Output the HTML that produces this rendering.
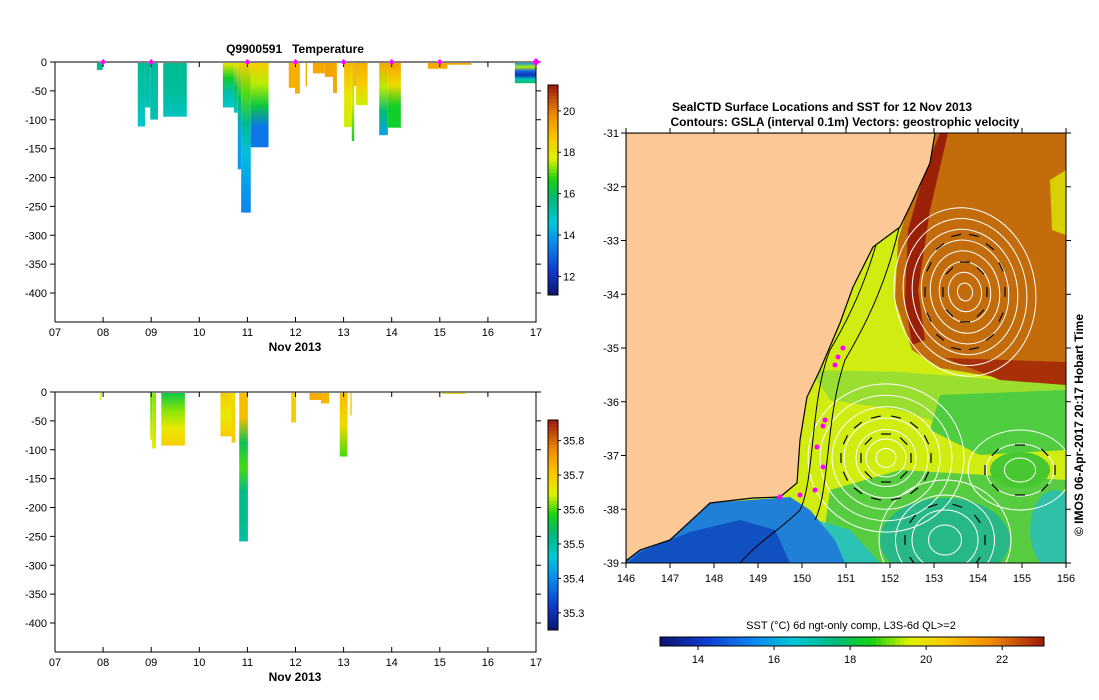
<!DOCTYPE html>
<html><head><meta charset="utf-8"><style>
body{margin:0;background:#fff;width:1099px;height:700px;overflow:hidden}
svg{display:block;font-family:"Liberation Sans",sans-serif}
.t{font-size:11px;fill:#000}
.b{font-size:12px;font-weight:bold;fill:#000;white-space:pre}
</style></head><body>
<svg id="svg" width="1099" height="700"></svg>
<script>
// ---- data ----
const dayTicks = ["07","08","09","10","11","12","13","14","15","16","17"];
const depthTicks = [0,-50,-100,-150,-200,-250,-300,-350,-400];
const markerDays = [8,9,11,12,13,14,15,17];
const tempStart = [7.87,8.72,8.87,8.98,9.25,10.49,10.72,10.80,10.87,11.07,11.86,11.99,12.21,12.36,12.61,12.78,13.01,13.17,13.22,13.26,13.74,13.92,14.75,15.16,16.56];
const tempEnd   = [7.99,8.87,8.98,9.14,9.74,10.72,10.80,10.87,11.07,11.44,11.99,12.09,12.24,12.61,12.78,12.86,13.17,13.22,13.26,13.50,13.92,14.19,15.16,15.66,16.99];
const tempDepth = [12,110,77,98,93,77,86,184,259,146,43,53,40,18,24,52,111,135,40,73,125,112,10,3,35];
const tempProfiles = [[15.5,15.5],[15.4,15.2,14.8],[15.4,15.0],[15.4,15.1],[15.5,15.4,14.9],[18,16.5,15.2,14.8],[18,16,14.8],[18.5,16,14,13.8],[18.6,17,15.5,14.5,14,13.5],[18.6,17.5,16.3,13.3,13.3],[19.2,19.2],[19.2,19.2],[19.2,19.2],[19.3,19.3],[19.4,19.4],[19.3,19.3],[19,18,17.6],[19,17.6,16.5],[19.2,19.2],[19.2,18.6,17.6],[19.3,17.5,15.8,14],[19.4,18.3,16.5,16.5],[19.3,19.3],[19.3,19.3],[14,17.5,13,12,15,16]];
const salStart = [7.94,8.98,9.02,9.21,10.44,10.67,10.83,11.91,12.29,12.53,12.92,13.14,15.05];
const salEnd   = [7.97,9.02,9.10,9.70,10.67,10.75,11.01,12.01,12.53,12.70,13.08,13.17,15.54];
const salDepth = [12,82,96,91,75,86,257,51,12,18,110,39,1];
const salProfiles = [[35.65,35.65],[35.6,35.65],[35.62,35.66],[35.56,35.62,35.66,35.7],[35.7,35.66,35.7],[35.68,35.7],[35.72,35.72,35.55,35.6,35.52,35.52,35.5],[35.7,35.7],[35.74,35.74],[35.73,35.73],[35.72,35.68,35.6],[35.7,35.7],[35.68,35.68]];
const tempCbTicks = [12,14,16,18,20];
const salCbTicks = [35.3,35.4,35.5,35.6,35.7,35.8];
const lonTicks = [146,147,148,149,150,151,152,153,154,155,156];
const latTicks = [-31,-32,-33,-34,-35,-36,-37,-38,-39];
const sstTicks = [14,16,18,20,22];

const NS="http://www.w3.org/2000/svg";
const svg=document.getElementById('svg');
function mk(tag,attrs,parent){const e=document.createElementNS(NS,tag);for(const k in attrs)e.setAttribute(k,attrs[k]);(parent||svg).appendChild(e);return e;}
const stops=[[0,[10,20,110]],[0.12,[16,60,210]],[0.25,[10,140,240]],[0.35,[0,200,215]],[0.45,[0,185,130]],[0.55,[20,210,20]],[0.65,[225,242,0]],[0.75,[250,200,0]],[0.86,[240,140,0]],[1,[160,25,15]]];
function cmap(f){f=Math.max(0,Math.min(1,f));for(let i=1;i<stops.length;i++){if(f<=stops[i][0]){const a=stops[i-1],b=stops[i];const t=(f-a[0])/(b[0]-a[0]);const c=a[1].map((v,j)=>Math.round(v+(b[1][j]-v)*t));return `rgb(${c})`;}}return 'rgb(160,25,15)';}
let gid=0;
function gradient(vals,fn){const id='g'+(gid++);const defs=mk('defs',{});const lg=mk('linearGradient',{id:id,x1:0,y1:0,x2:0,y2:1},defs);vals.forEach((v,i)=>mk('stop',{offset:(vals.length>1?i/(vals.length-1):0),'stop-color':fn(v)},lg));return id;}

function depthPanel(y0,start,end,depth,profiles,vmin,vmax,cbTicks,cbY0,cbY1,name,title){
  const g=mk('g',{});
  
  
  const X0=55,X1=536,ybot=y0+260;
  const xs=d=>X0+(d-7)*(X1-X0)/10;
  const ys=m=>y0+m*231/400;
  const fn=v=>cmap((v-vmin)/(vmax-vmin));
  for(let i=0;i<start.length;i++){
    const id=gradient(profiles[i],fn);
    const r=mk('rect',{x:xs(start[i]),y:y0+1,width:Math.max(1,xs(end[i])-xs(start[i])),height:Math.max(1,ys(depth[i])-y0),fill:`url(#${id})`},g);
    
    
  }
  mk('path',{d:`M${X0},${ybot}V${y0}H${X1}V${ybot}H${X0}`,fill:'none',stroke:'#000','stroke-width':1},g);
  dayTicks.forEach((t,i)=>{const x=xs(7+i);mk('line',{x1:x,x2:x,y1:ybot,y2:ybot-5,stroke:'#000'},g);mk('line',{x1:x,x2:x,y1:y0,y2:y0+5,stroke:'#000'},g);
    const tx=mk('text',{x:x,y:ybot+14,'text-anchor':'middle',class:'t'},g);tx.textContent=t;});
  depthTicks.forEach(d=>{const y=ys(-d);mk('line',{x1:X0,x2:X0-5,y1:y,y2:y,stroke:'#000'},g);mk('line',{x1:X1,x2:X1+5,y1:y,y2:y,stroke:'#000'},g);
    const tx=mk('text',{x:47,y:y+4,'text-anchor':'end',class:'t'},g);tx.textContent=d;});
  const xl=mk('text',{x:295,y:ybot+29,'text-anchor':'middle',class:'b'},g);xl.textContent='Nov 2013';
  
  if(title){const tt=mk('text',{x:295,y:y0-9,'text-anchor':'middle',class:'b'},g);tt.textContent=title;
    }
  const cb=mk('g',{},g);
  const n=60;for(let k=0;k<n;k++){const yy=cbY1-(k+1)*(cbY1-cbY0)/n;mk('rect',{x:548,y:yy,width:10,height:(cbY1-cbY0)/n+0.5,fill:cmap((k+0.5)/n)},cb);}
  mk('rect',{x:548,y:cbY0,width:10,height:cbY1-cbY0,fill:'none',stroke:'#000'},cb);
  cbTicks.forEach(v=>{const y=cbY1-(v-vmin)/(vmax-vmin)*(cbY1-cbY0);mk('line',{x1:558,x2:561,y1:y,y2:y,stroke:'#000'},cb);
    const tx=mk('text',{x:563,y:y+4,class:'t'},cb);tx.textContent=v;});
  return xs;
}
const xsT=depthPanel(62,tempStart,tempEnd,tempDepth,tempProfiles,11.1,21.25,tempCbTicks,85,295,'temperature-panel','Q9900591   Temperature');
depthPanel(392,salStart,salEnd,salDepth,salProfiles,35.25,35.86,salCbTicks,420,630,'salinity-panel',null);
markerDays.forEach(d=>{const x=xsT(d);const r=d===17?4:3;const m=mk('path',{d:`M${x-r},62L${x},${62-r}L${x+r},62L${x},${62+r}Z`,fill:'#f0f'});
  });

// ---- map ----
const mg=mk('g',{});


const MX0=626,MX1=1066,MY0=133,MY1=563;
const lx=l=>MX0+(l-146)*(MX1-MX0)/10, ly=l=>MY0+(-31-l)*(MY1-MY0)/8;
const defs=mk('defs',{},mg);
const cpth=mk('clipPath',{id:'mc'},defs);
mk('rect',{x:MX0,y:MY0,width:MX1-MX0,height:MY1-MY0},cpth);
const mc=mk('g',{'clip-path':'url(#mc)'},mg);
mk('rect',{x:MX0,y:MY0,width:440,height:430,fill:'#d0ec10'},mc);
mk('path',{d:'M810,370 L900,372 L1066,385 L1066,420 L960,430 L900,410 L830,400Z',fill:'#9ade30'},mc);
mk('path',{d:'M940,395 L1066,390 L1066,450 L980,455 L930,430Z',fill:'#50cc40'},mc);
mk('path',{d:'M830,490 L900,470 L1066,480 L1066,563 L820,563Z',fill:'#58cc40'},mc);
mk('ellipse',{cx:945,cy:540,rx:65,ry:42,fill:'#28b888'},mc);
mk('ellipse',{cx:1055,cy:530,rx:25,ry:40,fill:'#30c0a8'},mc);
mk('ellipse',{cx:1020,cy:470,rx:30,ry:18,fill:'#48c830'},mc);
mk('path',{d:'M800,515 L850,530 L880,563 L790,563Z',fill:'#20c0d0',opacity:0.8},mc);
mk('path',{d:'M627,563 L627,555 L670,540 L710,503 L790,497 L810,510 L835,540 L845,563Z',fill:'#2080d8'},mc);
mk('path',{d:'M627,563 L640,552 L690,532 L740,520 L775,530 L790,563Z',fill:'#1050c0'},mc);
mk('path',{d:'M935,133 L1066,133 L1066,382 L1000,378 L940,368 L912,350 L895,300 L898,240 L915,185Z',fill:'#c26c0c'},mc);
mk('path',{d:'M940,133 L948,133 L930,210 L918,290 L925,340 L912,345 L905,300 L908,230 L925,170Z',fill:'#9a2008'},mc);
mk('path',{d:'M945,358 L1066,362 L1066,385 L1000,380Z',fill:'#a83008'},mc);
mk('path',{d:'M1050,180 L1066,170 L1066,235 L1052,230Z',fill:'#d8d000'},mc);
const ct=mk('g',{fill:'none',stroke:'#fff','stroke-width':1},mc);
[10,20,30,42,54,66,78].forEach(r=>mk('ellipse',{cx:886,cy:458,rx:r,ry:r*0.95},ct));
[10,22,34,46,58,70,82,94].forEach(r=>mk('ellipse',{cx:965,cy:292,rx:r*0.75,ry:r*0.9,transform:'rotate(-10 965 292)'},ct));
[15,30,45,60].forEach(r=>mk('ellipse',{cx:945,cy:540,rx:r*1.1,ry:r},ct));
[12,26,40].forEach(r=>mk('ellipse',{cx:1020,cy:470,rx:r*1.3,ry:r},ct));
const bc=mk('g',{fill:'none',stroke:'#000','stroke-width':1},mc);
mk('path',{d:'M900,140 C880,250 860,300 830,350 C810,400 815,480 800,510 C780,530 760,540 740,563'},bc);
mk('path',{d:'M915,140 C900,250 880,300 845,360 C825,420 830,490 815,520'},bc);
const ag=mk('g',{stroke:'#000','stroke-width':1.2},mc);
[[886,458,45,42,-1,14],[886,458,25,24,-1,8],[965,292,40,58,1,14],[965,292,22,30,1,8],[945,540,40,36,-1,10],[1020,470,35,25,-1,8]].forEach(e=>{
  for(let i=0;i<e[5];i++){const a=i/e[5]*2*Math.PI;const x=e[0]+e[2]*Math.cos(a),y=e[1]+e[3]*Math.sin(a);const dx=-e[4]*Math.sin(a)*5,dy=e[4]*Math.cos(a)*5;mk('line',{x1:x-dx,y1:y-dy,x2:x+dx,y2:y+dy},ag);}});
mk('path',{d:'M626,133 L935,133 L930,163 L913,200 L900,227 L873,247 L853,287 L840,323 L820,370 L807,397 L800,440 L797,483 L780,497 L753,498 L710,503 L670,540 L640,550 L627,560 L626,563Z',fill:'#fcc896',stroke:'#000','stroke-width':1.2},mc);
const pg=mk('g',{fill:'#f0f'},mc);
[[843,348],[838,357],[835,365],[825,420],[823,426],[817,447],[823,467],[800,495],[780,497],[815,490]].forEach(p=>mk('circle',{cx:p[0],cy:p[1],r:2.5},pg));
mk('rect',{x:MX0,y:MY0,width:440,height:430,fill:'none',stroke:'#000'},mg);
lonTicks.forEach(l=>{const x=lx(l);mk('line',{x1:x,x2:x,y1:MY1,y2:MY1+5,stroke:'#000'},mg);mk('line',{x1:x,x2:x,y1:MY0,y2:MY0-5,stroke:'#000'},mg);
  const t=mk('text',{x:x,y:MY1+19,'text-anchor':'middle',class:'t'},mg);t.textContent=l;});
latTicks.forEach(l=>{const y=ly(l);mk('line',{x1:MX0,x2:MX0-5,y1:y,y2:y,stroke:'#000'},mg);mk('line',{x1:MX1,x2:MX1+5,y1:y,y2:y,stroke:'#000'},mg);
  const t=mk('text',{x:619,y:y+4,'text-anchor':'end',class:'t'},mg);t.textContent=l;});
let t1=mk('text',{x:822,y:111,'text-anchor':'middle',class:'b'},mg);t1.textContent='SealCTD Surface Locations and SST for 12 Nov 2013';

let t2=mk('text',{x:845,y:126,'text-anchor':'middle',class:'b'},mg);t2.textContent='Contours: GSLA (interval 0.1m) Vectors: geostrophic velocity';

let t3=mk('text',{x:1083,y:425,'text-anchor':'middle',class:'b',transform:'rotate(-90 1083 425)'},mg);t3.textContent='© IMOS 06-Apr-2017 20:17 Hobart Time';

const sc=mk('g',{},mg);


const SMIN=13,SMAX=23.1,SX0=660,SX1=1044;
for(let k=0;k<80;k++){mk('rect',{x:SX0+k*(SX1-SX0)/80,y:637,width:(SX1-SX0)/80+0.5,height:9,fill:cmap((k+0.5)/80)},sc);}
mk('rect',{x:SX0,y:637,width:SX1-SX0,height:9,fill:'none',stroke:'#000'},sc);
sstTicks.forEach(v=>{const x=SX0+(v-SMIN)/(SMAX-SMIN)*(SX1-SX0);mk('line',{x1:x,x2:x,y1:646,y2:650,stroke:'#000'},sc);
  const t=mk('text',{x:x,y:663,'text-anchor':'middle',class:'t'},sc);t.textContent=v;});
let t4=mk('text',{x:851,y:629,'text-anchor':'middle',class:'t'},sc);t4.textContent='SST (°C) 6d ngt-only comp, L3S-6d QL>=2';
</script>
</body></html>
